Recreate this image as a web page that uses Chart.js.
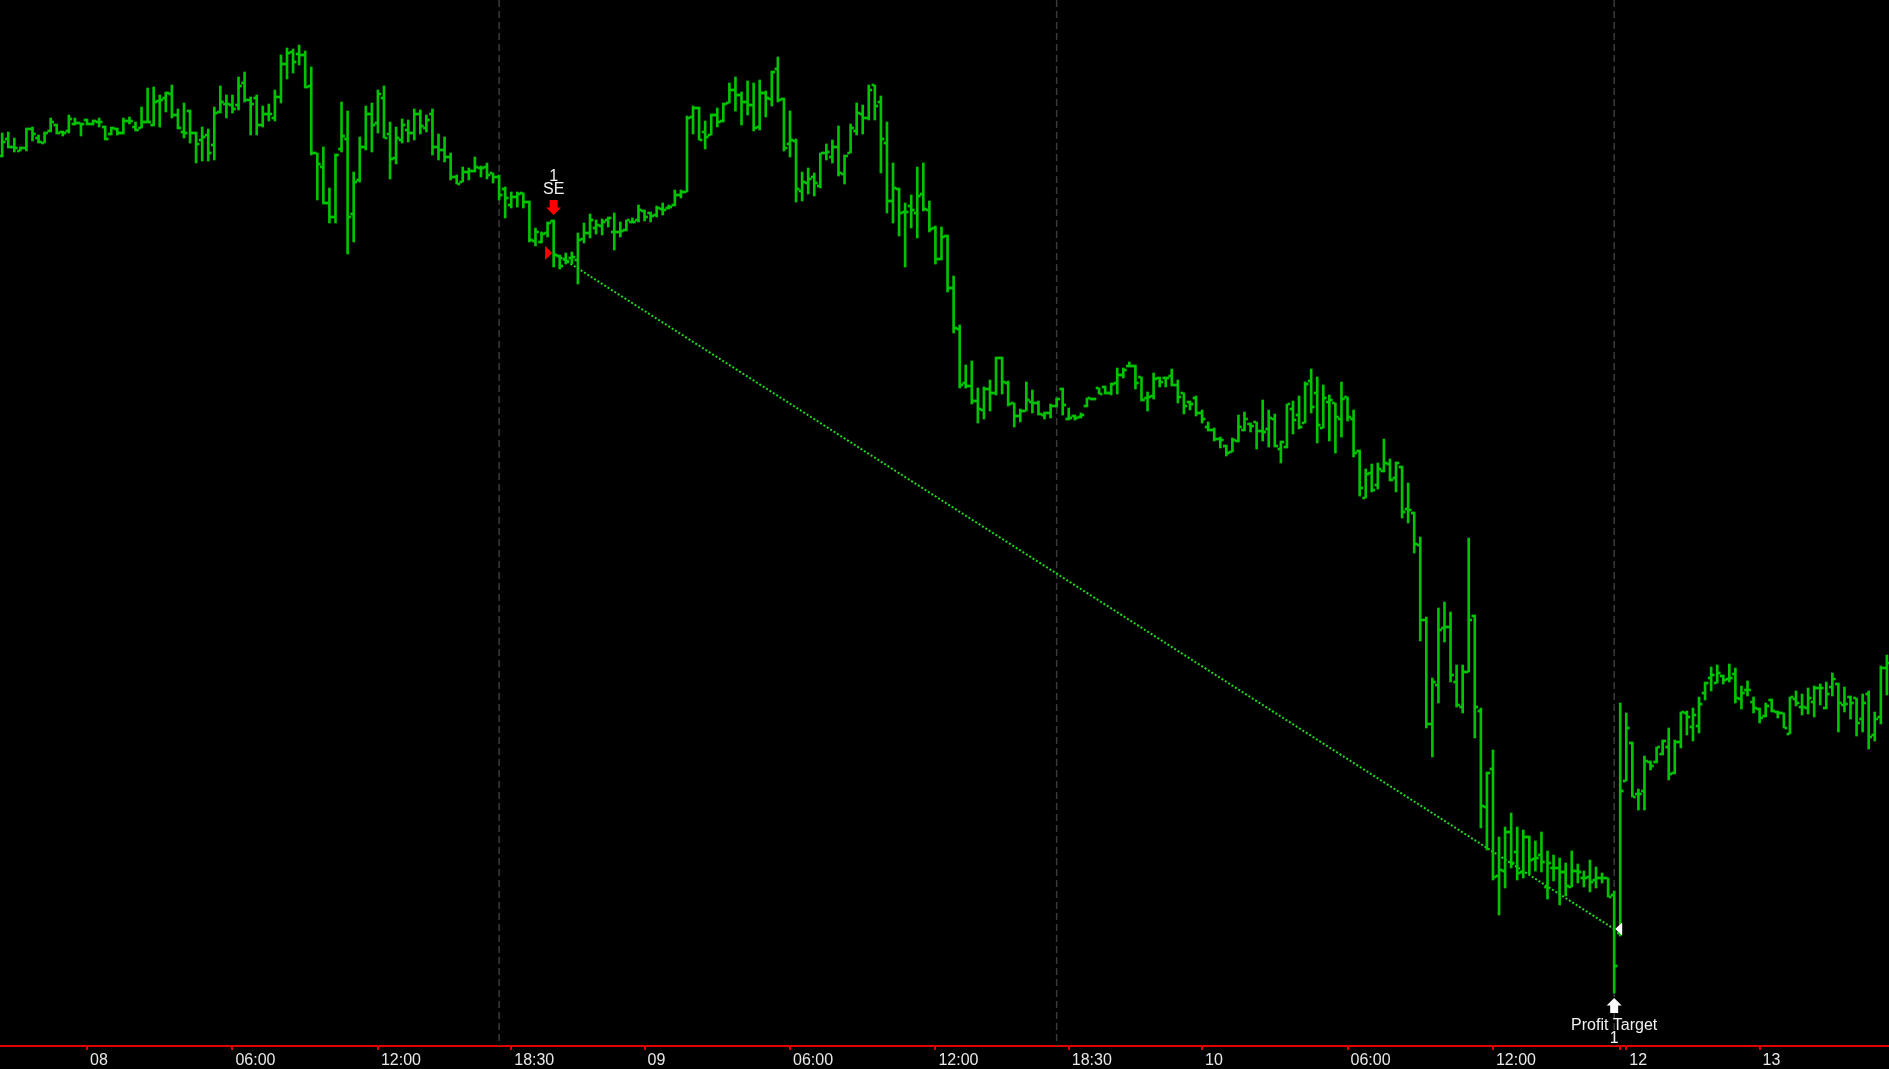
<!DOCTYPE html>
<html>
<head>
<meta charset="utf-8">
<title>15 Min - Short trade</title>
<script src="https://cdn.jsdelivr.net/npm/chart.js@4.4.1/dist/chart.umd.min.js"></script>
<style>
  html, body { margin: 0; padding: 0; background: #000; overflow: hidden; }
  #wrap { position: relative; width: 1889px; height: 1069px; }
</style>
</head>
<body>
<div id="wrap"><canvas id="priceChart"></canvas></div>
<script>
// 15 minute OHLC bars, one value per bar (bar index 0..311)
const opens = [
  68.44, 68.61, 68.53, 68.49, 68.52, 68.71, 68.62, 68.57, 68.69, 68.75,
  68.68, 68.69, 68.76, 68.77, 68.80, 68.76, 68.78, 68.73, 68.66, 68.71,
  68.67, 68.79, 68.73, 68.72, 68.78, 68.75, 68.99, 69.02, 69.06, 68.85,
  68.68, 68.89, 68.67, 68.60, 68.65, 68.55, 68.88, 68.96, 68.95, 68.95,
  69.17, 69.00, 69.02, 68.75, 68.86, 68.82, 69.03, 69.36, 69.48, 69.46,
  69.45, 69.14, 68.47, 68.33, 67.97, 67.83, 68.51, 68.61, 67.86, 68.20,
  68.53, 68.86, 68.77, 69.02, 68.66, 68.42, 68.60, 68.70, 68.67, 68.86,
  68.72, 68.86, 68.53, 68.50, 68.43, 68.23, 68.18, 68.28, 68.29, 68.32,
  68.33, 68.27, 68.23, 68.11, 67.95, 68.03, 68.07, 67.98, 67.59, 67.58,
  67.67, 67.79, 67.44, 67.41, 67.42, 67.40, 67.61, 67.67, 67.72, 67.74,
  67.80, 67.68, 67.68, 67.70, 67.78, 67.80, 67.89, 67.87, 67.85, 67.91,
  67.92, 67.95, 68.05, 68.08, 68.83, 68.92, 68.68, 68.65, 68.85, 68.79,
  68.97, 69.10, 69.05, 68.98, 68.95, 68.73, 69.07, 69.01, 69.31, 69.01,
  68.56, 68.59, 68.09, 68.17, 68.23, 68.14, 68.47, 68.43, 68.53, 68.26,
  68.47, 68.69, 68.86, 68.82, 69.15, 68.98, 68.57, 67.99, 68.11, 67.88,
  67.94, 67.87, 68.06, 67.90, 67.72, 67.41, 67.64, 67.12, 66.71, 66.17,
  66.14, 65.99, 65.90, 66.11, 66.07, 66.42, 66.17, 65.97, 65.84, 65.89,
  65.98, 65.97, 65.85, 65.87, 65.94, 66.11, 65.81, 65.84, 65.83, 65.94,
  66.01, 66.12, 66.13, 66.07, 66.17, 66.25, 66.34, 66.34, 66.23, 66.02,
  66.04, 66.22, 66.22, 66.24, 66.15, 66.07, 65.98, 66.02, 65.87, 65.73,
  65.70, 65.61, 65.54, 65.48, 65.59, 65.70, 65.76, 65.78, 65.69, 65.71,
  65.81, 65.51, 65.53, 65.91, 65.85, 65.77, 66.19, 66.07, 65.72, 65.98,
  65.97, 65.81, 66.03, 65.81, 65.49, 65.02, 65.27, 65.15, 65.29, 65.36,
  65.22, 65.33, 64.91, 64.87, 64.55, 63.80, 62.76, 63.15, 63.72, 63.73,
  63.18, 62.93, 63.28, 63.84, 62.89, 61.93, 62.31, 61.24, 61.29, 61.68,
  61.48, 61.28, 61.63, 61.41, 61.45, 61.13, 61.32, 61.32, 61.28, 61.13,
  61.29, 61.22, 61.23, 61.20, 61.22, 61.22, 61.05, 60.67, 62.19, 62.57,
  62.06, 62.09, 62.38, 62.38, 62.46, 62.53, 62.27, 62.58, 62.87, 62.73,
  62.74, 63.07, 63.22, 63.17, 63.24, 63.21, 63.26, 63.01, 63.10, 62.98,
  62.91, 62.84, 63.00, 62.88, 62.87, 62.66, 63.01, 62.93, 62.92, 62.98,
  63.12, 62.92, 63.13, 63.16, 62.95, 63.03, 63.02, 62.81, 63.06, 62.65,
  62.83, 63.32
];
const highs = [
  68.67, 68.68, 68.62, 68.53, 68.72, 68.73, 68.65, 68.68, 68.82, 68.76,
  68.69, 68.85, 68.82, 68.77, 68.81, 68.80, 68.82, 68.74, 68.73, 68.72,
  68.82, 68.83, 68.78, 68.93, 69.12, 69.13, 69.05, 69.08, 69.15, 68.91,
  68.97, 68.90, 68.68, 68.73, 68.71, 68.93, 69.14, 69.05, 69.05, 69.23,
  69.28, 69.03, 69.05, 68.94, 68.96, 69.10, 69.45, 69.52, 69.51, 69.55,
  69.49, 69.33, 68.47, 68.53, 68.12, 68.46, 68.98, 68.89, 68.28, 68.63,
  68.94, 68.97, 69.10, 69.14, 68.78, 68.73, 68.81, 68.80, 68.91, 68.90,
  68.85, 68.91, 68.66, 68.63, 68.47, 68.25, 68.33, 68.32, 68.43, 68.34,
  68.37, 68.27, 68.25, 68.13, 68.08, 68.08, 68.07, 67.99, 67.72, 67.68,
  67.78, 67.80, 67.45, 67.47, 67.48, 67.67, 67.77, 67.86, 67.80, 67.81,
  67.83, 67.87, 67.78, 67.80, 67.82, 67.95, 67.90, 67.88, 67.94, 67.97,
  67.95, 68.10, 68.10, 68.84, 68.94, 68.93, 68.79, 68.86, 68.92, 68.97,
  69.17, 69.23, 69.08, 69.19, 69.17, 69.20, 69.09, 69.29, 69.43, 69.02,
  68.89, 68.61, 68.28, 68.32, 68.27, 68.47, 68.56, 68.60, 68.74, 68.45,
  68.76, 68.97, 68.95, 69.15, 69.15, 69.04, 68.78, 68.37, 68.12, 67.97,
  68.05, 68.33, 68.37, 67.99, 67.74, 67.73, 67.65, 67.24, 66.75, 66.35,
  66.39, 66.12, 66.13, 66.20, 66.43, 66.43, 66.19, 65.97, 65.91, 66.18,
  66.10, 65.99, 65.88, 65.96, 66.02, 66.12, 65.92, 65.85, 65.87, 66.02,
  66.02, 66.12, 66.14, 66.17, 66.32, 66.32, 66.38, 66.35, 66.23, 66.08,
  66.27, 66.23, 66.23, 66.31, 66.20, 66.07, 65.99, 66.04, 65.90, 65.78,
  65.72, 65.63, 65.55, 65.62, 65.85, 65.88, 65.77, 65.78, 66.00, 65.90,
  65.86, 65.59, 65.96, 65.99, 66.04, 66.18, 66.31, 66.23, 66.15, 66.05,
  65.97, 66.18, 66.03, 65.90, 65.50, 65.31, 65.36, 65.37, 65.61, 65.41,
  65.38, 65.34, 65.17, 64.88, 64.63, 63.83, 63.22, 63.92, 63.98, 63.88,
  63.35, 63.35, 64.62, 63.85, 62.92, 62.28, 62.50, 61.63, 61.73, 61.87,
  61.73, 61.70, 61.64, 61.59, 61.68, 61.49, 61.45, 61.42, 61.37, 61.49,
  61.36, 61.29, 61.40, 61.33, 61.27, 61.22, 61.09, 62.97, 62.87, 62.58,
  62.11, 62.44, 62.39, 62.53, 62.60, 62.72, 62.60, 62.88, 62.89, 62.92,
  63.03, 63.18, 63.33, 63.35, 63.25, 63.36, 63.32, 63.14, 63.19, 63.03,
  62.92, 62.97, 63.01, 62.89, 62.87, 63.03, 63.09, 63.06, 63.12, 63.14,
  63.16, 63.18, 63.27, 63.17, 63.13, 63.04, 63.02, 63.06, 63.09, 62.88,
  63.34, 63.45
];
const lows = [
  68.43, 68.52, 68.48, 68.49, 68.49, 68.59, 68.57, 68.57, 68.68, 68.66,
  68.64, 68.67, 68.75, 68.64, 68.75, 68.75, 68.73, 68.60, 68.65, 68.65,
  68.66, 68.76, 68.69, 68.72, 68.77, 68.74, 68.73, 68.88, 68.82, 68.71,
  68.62, 68.57, 68.37, 68.39, 68.39, 68.40, 68.87, 68.82, 68.87, 68.90,
  68.98, 68.65, 68.65, 68.73, 68.79, 68.79, 68.97, 69.21, 69.27, 69.35,
  69.12, 68.45, 68.00, 67.96, 67.77, 67.77, 68.48, 67.46, 67.58, 68.18,
  68.50, 68.48, 68.67, 68.62, 68.21, 68.36, 68.57, 68.58, 68.60, 68.66,
  68.68, 68.45, 68.40, 68.38, 68.20, 68.16, 68.18, 68.20, 68.28, 68.23,
  68.21, 68.17, 68.00, 67.82, 67.92, 67.93, 67.92, 67.58, 67.54, 67.57,
  67.63, 67.33, 67.31, 67.36, 67.36, 67.16, 67.57, 67.62, 67.66, 67.65,
  67.73, 67.50, 67.63, 67.69, 67.77, 67.78, 67.79, 67.78, 67.83, 67.85,
  67.91, 67.94, 68.02, 68.08, 68.66, 68.60, 68.51, 68.65, 68.73, 68.78,
  68.97, 68.89, 68.75, 68.85, 68.69, 68.70, 68.83, 68.94, 68.98, 68.49,
  68.43, 67.98, 67.99, 68.06, 68.04, 68.12, 68.40, 68.37, 68.24, 68.16,
  68.47, 68.65, 68.66, 68.80, 68.80, 68.27, 67.87, 67.77, 67.64, 67.33,
  67.72, 67.62, 67.89, 67.68, 67.36, 67.40, 67.08, 66.67, 66.12, 66.12,
  65.96, 65.77, 65.81, 65.89, 66.05, 66.06, 65.94, 65.73, 65.78, 65.89,
  65.87, 65.85, 65.81, 65.82, 65.93, 65.85, 65.80, 65.80, 65.82, 65.93,
  66.00, 66.06, 66.06, 66.05, 66.06, 66.22, 66.33, 66.11, 65.99, 65.89,
  66.01, 66.13, 66.13, 66.14, 65.97, 65.86, 65.90, 65.84, 65.77, 65.69,
  65.59, 65.52, 65.44, 65.48, 65.58, 65.69, 65.68, 65.51, 65.59, 65.53,
  65.53, 65.37, 65.52, 65.66, 65.71, 65.77, 65.87, 65.57, 65.72, 65.59,
  65.47, 65.63, 65.79, 65.43, 65.04, 65.02, 65.08, 65.11, 65.28, 65.19,
  65.08, 64.82, 64.77, 64.47, 63.59, 62.72, 62.43, 62.97, 63.58, 63.18,
  62.93, 62.87, 63.28, 62.62, 61.72, 61.50, 61.20, 60.85, 61.12, 61.32,
  61.20, 61.22, 61.26, 61.29, 61.28, 61.01, 61.19, 60.95, 61.04, 61.13,
  61.17, 61.13, 61.08, 61.12, 61.17, 61.03, 60.07, 60.64, 62.19, 62.03,
  61.90, 61.90, 62.30, 62.37, 62.45, 62.20, 62.26, 62.52, 62.65, 62.59,
  62.67, 63.00, 63.09, 63.17, 63.16, 63.18, 62.97, 62.91, 63.04, 62.87,
  62.77, 62.83, 62.88, 62.82, 62.72, 62.66, 62.94, 62.85, 62.86, 62.83,
  62.95, 62.91, 63.04, 62.68, 62.88, 62.81, 62.64, 62.68, 62.51, 62.59,
  62.76, 63.05
];
const closes = [
  68.58, 68.53, 68.52, 68.52, 68.71, 68.66, 68.58, 68.67, 68.78, 68.67,
  68.67, 68.81, 68.77, 68.76, 68.76, 68.79, 68.78, 68.61, 68.72, 68.67,
  68.79, 68.79, 68.70, 68.78, 68.78, 68.98, 69.00, 69.07, 68.85, 68.72,
  68.67, 68.67, 68.56, 68.63, 68.47, 68.87, 68.98, 68.96, 68.91, 69.14,
  69.00, 68.96, 68.75, 68.86, 68.86, 69.03, 69.36, 69.47, 69.38, 69.45,
  69.13, 68.47, 68.36, 67.97, 67.83, 68.45, 68.64, 67.83, 68.18, 68.53,
  68.86, 68.75, 69.06, 68.62, 68.41, 68.62, 68.75, 68.67, 68.86, 68.74,
  68.80, 68.53, 68.50, 68.43, 68.23, 68.16, 68.28, 68.29, 68.33, 68.32,
  68.25, 68.23, 68.05, 68.02, 68.03, 68.06, 67.98, 67.60, 67.68, 67.66,
  67.77, 67.45, 67.34, 67.39, 67.43, 67.60, 67.67, 67.80, 67.75, 67.78,
  67.82, 67.68, 67.69, 67.80, 67.78, 67.90, 67.83, 67.84, 67.92, 67.90,
  67.93, 68.05, 68.08, 68.82, 68.92, 68.60, 68.63, 68.85, 68.78, 68.96,
  69.10, 69.05, 68.98, 68.95, 68.72, 69.07, 69.02, 69.28, 69.00, 68.52,
  68.60, 68.11, 68.18, 68.21, 68.17, 68.47, 68.48, 68.53, 68.27, 68.44,
  68.72, 68.87, 68.82, 69.10, 68.94, 68.61, 67.99, 68.12, 67.87, 67.88,
  67.90, 68.04, 67.91, 67.71, 67.41, 67.63, 67.12, 66.72, 66.15, 66.14,
  65.99, 65.91, 66.11, 66.07, 66.42, 66.18, 65.96, 65.84, 65.89, 66.00,
  65.97, 65.86, 65.87, 65.94, 66.01, 65.95, 65.82, 65.82, 65.85, 66.02,
  66.01, 66.06, 66.07, 66.16, 66.25, 66.30, 66.34, 66.17, 66.00, 66.03,
  66.21, 66.18, 66.22, 66.15, 66.03, 65.94, 65.96, 65.87, 65.81, 65.70,
  65.61, 65.60, 65.47, 65.60, 65.73, 65.81, 65.74, 65.69, 65.68, 65.82,
  65.54, 65.58, 65.96, 65.80, 65.73, 66.16, 65.93, 65.75, 66.02, 66.00,
  65.83, 66.01, 65.83, 65.47, 65.12, 65.26, 65.10, 65.31, 65.37, 65.20,
  65.37, 64.88, 64.90, 64.56, 63.80, 62.76, 63.18, 63.70, 63.73, 63.25,
  62.95, 63.28, 63.80, 62.93, 61.94, 62.27, 61.23, 61.30, 61.68, 61.37,
  61.27, 61.63, 61.40, 61.42, 61.38, 61.37, 61.32, 61.28, 61.14, 61.29,
  61.28, 61.22, 61.18, 61.22, 61.22, 61.03, 60.34, 62.09, 62.72, 62.03,
  62.06, 62.39, 62.34, 62.53, 62.59, 62.26, 62.58, 62.88, 62.83, 62.85,
  62.96, 63.17, 63.25, 63.27, 63.20, 63.22, 63.02, 63.07, 63.10, 62.92,
  62.82, 62.94, 62.89, 62.87, 62.72, 63.03, 62.97, 62.93, 63.02, 63.12,
  63.12, 63.06, 63.21, 62.97, 62.96, 62.97, 62.77, 62.97, 62.63, 62.81,
  63.32, 63.37
];

// time axis labels, placed at bar index
const tickBars   = [14, 38, 62, 84, 106, 130, 154, 176, 198, 222, 246, 267, 268, 290];
const tickLabels = ['08', '06:00', '12:00', '18:30', '09', '06:00', '12:00', '18:30', '10', '06:00', '12:00', '', '12', '13'];

// last bar of each session (dashed break line)
const sessionBreaks = [82, 174, 266];

// the trade: short entry and profit target exit
const entryBar = 91;
const entryPrice = 67.47;
const exitBar = 266;
const exitPrice = 60.71;

const BAR_GREEN = '#00c400';
const TICK = 0.01; // half height of the open / close marks
const LABEL_FONT = '16px "Liberation Sans", Arial, sans-serif';

const rangeBars  = highs.map((h, i) => ({ x: i, y: [lows[i], h] }));
const openMarks  = opens.map((o, i) => ({ x: i, y: [o - TICK, o + TICK] }));
const closeMarks = closes.map((c, i) => ({ x: i, y: [c - TICK, c + TICK] }));

function drawArrow(ctx, cx, tipY, dir, color) {
    // dir = 1 pointing down, -1 pointing up
    ctx.fillStyle = color;
    ctx.beginPath();
    ctx.moveTo(cx, tipY);
    ctx.lineTo(cx + 7.5, tipY - dir * 7.5);
    ctx.lineTo(cx + 4, tipY - dir * 7.5);
    ctx.lineTo(cx + 4, tipY - dir * 15);
    ctx.lineTo(cx - 4, tipY - dir * 15);
    ctx.lineTo(cx - 4, tipY - dir * 7.5);
    ctx.lineTo(cx - 7.5, tipY - dir * 7.5);
    ctx.closePath();
    ctx.fill();
}

// Session break lines
const sessionLinePlugin = {
    id: 'sessionLines',
    beforeDatasetsDraw(chart) {
        const { ctx, chartArea, scales: { x } } = chart;
        ctx.save();
        ctx.strokeStyle = '#3a3a3a';
        ctx.lineWidth = 1.5;
        ctx.setLineDash([7, 4]);
        sessionBreaks.forEach(b => {
            const px = x.getPixelForValue(b);
            ctx.beginPath();
            ctx.moveTo(px, chartArea.top);
            ctx.lineTo(px, chartArea.bottom);
            ctx.stroke();
        });
        ctx.restore();
    }
};

// Entry / exit markers and their texts
const tradePlugin = {
    id: 'tradeMarkers',
    afterDatasetsDraw(chart) {
        const { ctx, scales: { x, y } } = chart;
        const ex = x.getPixelForValue(entryBar);
        const ey = y.getPixelForValue(entryPrice);
        const hx = x.getPixelForValue(exitBar);
        const hy = y.getPixelForValue(exitPrice);
        const topY = y.getPixelForValue(highs[entryBar]);
        const lowY = y.getPixelForValue(lows[exitBar]);

        ctx.save();
        // entry triangle
        ctx.fillStyle = '#ff0000';
        ctx.beginPath();
        ctx.moveTo(ex - 8.5, ey - 7);
        ctx.lineTo(ex - 1.5, ey);
        ctx.lineTo(ex - 8.5, ey + 7);
        ctx.closePath();
        ctx.fill();
        drawArrow(ctx, ex, topY - 5, 1, '#ff0000');

        // exit triangle
        ctx.fillStyle = '#ffffff';
        ctx.beginPath();
        ctx.moveTo(hx + 8, hy - 6.5);
        ctx.lineTo(hx + 1, hy);
        ctx.lineTo(hx + 8, hy + 6.5);
        ctx.closePath();
        ctx.fill();
        drawArrow(ctx, hx, lowY + 5, -1, '#ffffff');

        ctx.fillStyle = '#f0f0f0';
        ctx.font = LABEL_FONT;
        ctx.textAlign = 'center';
        ctx.textBaseline = 'middle';
        ctx.fillText('1', ex, topY - 43);
        ctx.fillText('SE', ex, topY - 30);
        ctx.fillText('Profit Target', hx, lowY + 33);
        ctx.fillText('1', hx, lowY + 46);
        ctx.restore();
    }
};

const barStyle = {
    type: 'bar',
    backgroundColor: BAR_GREEN,
    borderWidth: 0,
    barThickness: 2,
    grouped: true,
    order: 0
};

new Chart(document.getElementById('priceChart'), {
    type: 'bar',
    data: {
        datasets: [
            { ...barStyle, label: 'Open', data: openMarks },
            { ...barStyle, label: 'Range', data: rangeBars },
            { ...barStyle, label: 'Close', data: closeMarks },
            {
                type: 'line',
                label: 'Trade',
                data: [{ x: entryBar, y: entryPrice }, { x: exitBar, y: exitPrice }],
                borderColor: '#22d622',
                borderWidth: 2,
                borderDash: [2, 2],
                pointRadius: 0,
                fill: false,
                order: 1
            }
        ]
    },
    options: {
        responsive: true,
        maintainAspectRatio: false,
        animation: false,
        layout: { padding: 0 },
        plugins: {
            legend: { display: false },
            tooltip: { enabled: false }
        },
        scales: {
            x: {
                type: 'linear',
                min: -0.36,
                max: 311.35,
                offset: false,
                afterBuildTicks: (scale) => {
                    scale.ticks = tickBars.map(v => ({ value: v }));
                },
                afterFit: (scale) => { scale.height = 23; },
                grid: {
                    offset: false,
                    drawOnChartArea: false,
                    drawTicks: true,
                    tickLength: 4,
                    color: '#e00000',
                    lineWidth: 2
                },
                border: { display: true, color: '#e00000', width: 2 },
                ticks: {
                    autoSkip: false,
                    maxRotation: 0,
                    align: 'start',
                    labelOffset: 3,
                    padding: 1,
                    color: '#e8e8e8',
                    font: { family: '"Liberation Sans", Arial, sans-serif', size: 16 },
                    callback: (value) => {
                        const k = tickBars.indexOf(value);
                        return k >= 0 ? tickLabels[k] : '';
                    }
                }
            },
            y: {
                display: false,
                min: 59.54,
                max: 70.0
            }
        }
    },
    plugins: [sessionLinePlugin, tradePlugin]
});
</script>
</body>
</html>
